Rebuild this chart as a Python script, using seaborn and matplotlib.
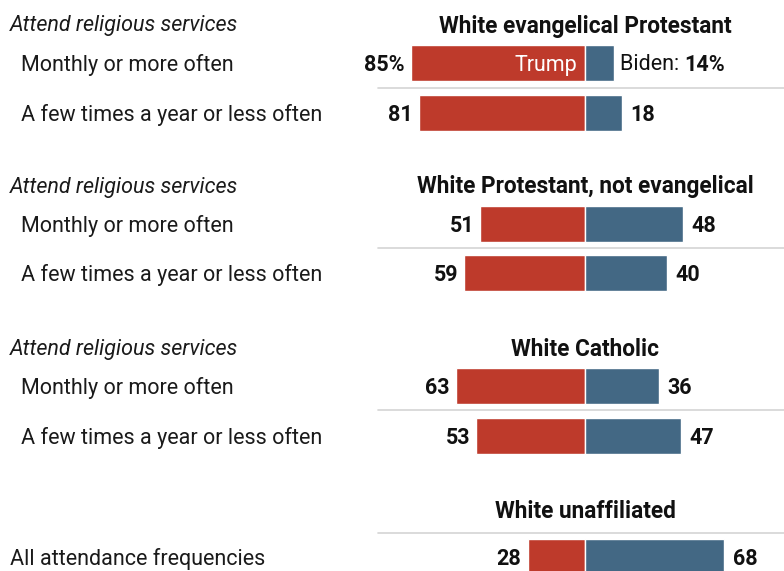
import matplotlib
matplotlib.use("Agg")
import matplotlib.pyplot as plt
import seaborn as sns
import pandas as pd

# Data
groups = ["White evangelical Protestant", "White Protestant, not evangelical",
          "White Catholic", "White unaffiliated"]
row_labels = ["Monthly or more often", "A few times a year or less often",
              "Monthly or more often", "A few times a year or less often",
              "Monthly or more often", "A few times a year or less often",
              "All attendance frequencies"]
row_group = [0, 0, 1, 1, 2, 2, 3]
trump = [85, 81, 51, 59, 63, 53, 28]
biden = [14, 18, 48, 40, 36, 47, 68]

# Layout (pixels)
W, H = 784, 571
ZERO = 585          # center line x
SCALE = 2.05        # px per percentage point
row_y = [63, 113, 224, 273, 386, 436, 557]
header_y = [24, 185, 347, 509]
sep_y = [88, 248, 410, 533]
DY = 2              # text nudge down
RED = "#BE3A2B"
BLUE = "#436884"

sns.set_theme(style="white")
plt.rcParams["font.family"] = ["Roboto", "DejaVu Sans"]

fig = plt.figure(figsize=(W / 100, H / 100), dpi=100)
ax = fig.add_axes([0, 0, 1, 1])

df = pd.DataFrame({"y": row_y, "trump": [-t for t in trump], "biden": biden})
bar_w = 36 / 48
sns.barplot(data=df, x="trump", y="y", orient="h", native_scale=True,
            color=RED, saturation=1, width=bar_w, errorbar=None,
            edgecolor="white", linewidth=1, ax=ax)
sns.barplot(data=df, x="biden", y="y", orient="h", native_scale=True,
            color=BLUE, saturation=1, width=bar_w, errorbar=None,
            edgecolor="white", linewidth=1, ax=ax)

ax.set_xlim(-ZERO / SCALE, (W - ZERO) / SCALE)
ax.set_ylim(H, 0)
ax.set_axis_off()


def px(x):
    return (x - ZERO) / SCALE


FS = 15.5
# separator lines
for y in sep_y:
    ax.plot([px(378), px(W)], [y, y], color="#d4d4d4", lw=1.2, zorder=0)

# group headers
for g, y in zip(groups, header_y):
    ax.text(0, y + DY, g, ha="center", va="center", fontsize=16.3,
            fontweight="bold", color="#111111")

# left side labels
for gi in range(3):
    ax.text(px(10), header_y[gi] + DY, "Attend religious services", ha="left",
            va="center", fontsize=FS, style="italic", color="#1a1a1a")
for i, (lab, y) in enumerate(zip(row_labels, row_y)):
    x0 = 10 if row_group[i] == 3 else 21
    ax.text(px(x0), y + DY, lab, ha="left", va="center", fontsize=FS,
            color="#1a1a1a")

# value labels
for i, (t, b, y) in enumerate(zip(trump, biden, row_y)):
    tl = f"{t}%" if i == 0 else str(t)
    ax.text(-t - 3, y + DY, tl, ha="right", va="center", fontsize=FS,
            fontweight="bold", color="#111111")
    if i == 0:
        ax.text(-4, y + DY, "Trump", ha="right", va="center", fontsize=FS,
                color="white")
        bid = ax.text(b + 3, y + DY, "Biden: ", ha="left", va="center",
                      fontsize=FS, color="#111111")
        ax.annotate(f"{b}%", xycoords=bid, xy=(1, 0.5), ha="left", va="center",
                    fontsize=FS, fontweight="bold", color="#111111")
    else:
        ax.text(b + 4, y + DY, str(b), ha="left", va="center", fontsize=FS,
                fontweight="bold", color="#111111")

fig.savefig("out.png", dpi=100)
